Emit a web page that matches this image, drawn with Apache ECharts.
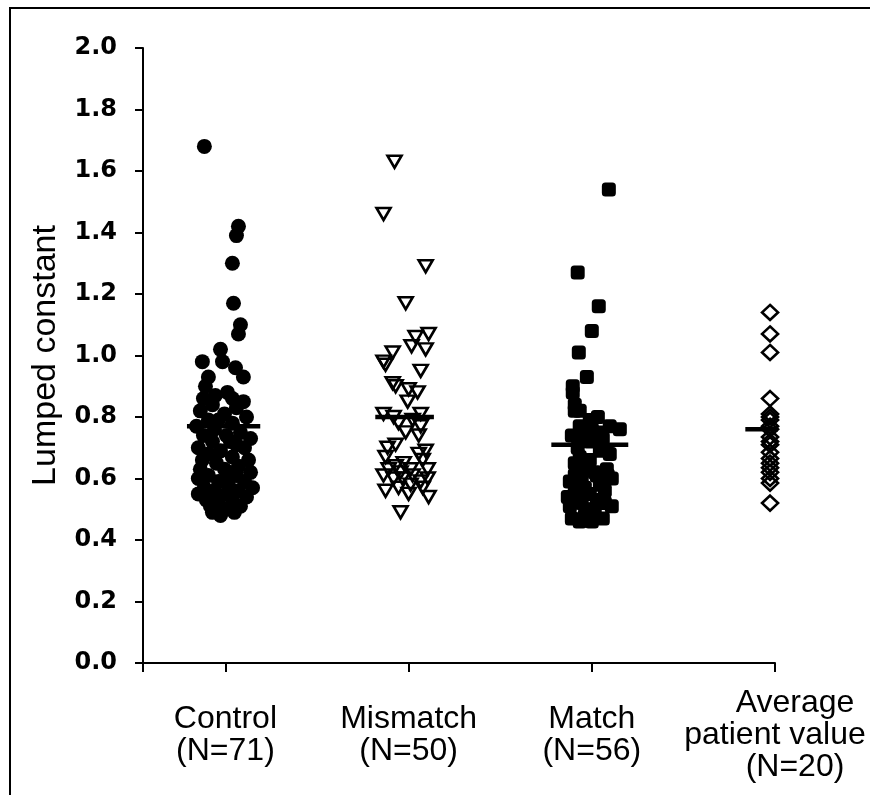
<!DOCTYPE html>
<html>
<head>
<meta charset="utf-8">
<script src="https://cdn.jsdelivr.net/npm/echarts@6/dist/echarts.min.js"></script>
<style>
  html, body { margin: 0; padding: 0; background: #fff; }
  #chart { width: 870px; height: 795px; }
</style>
</head>
<body>
<div id="chart"></div>
<script>
// ---------- DATA ----------
const categories = ['Control\n(N=71)', 'Mismatch\n(N=50)', 'Match\n(N=56)', 'Average\npatient value\n(N=20)'];
const yAxisTitle = 'Lumped constant';

const controlValues = [1.68, 1.42, 1.39, 1.30, 1.17, 1.10, 1.07, 1.02, 0.98, 0.98, 0.96, 0.93, 0.93, 0.90, 0.88, 0.85, 0.86, 0.87, 0.86,
  0.84, 0.83, 0.82, 0.81, 0.80, 0.79, 0.79, 0.78, 0.77, 0.76, 0.75, 0.74, 0.74, 0.73, 0.72, 0.71, 0.70, 0.70, 0.69, 0.68,
  0.67, 0.66, 0.66, 0.65, 0.64, 0.63, 0.63, 0.62, 0.61, 0.61, 0.60, 0.59, 0.59, 0.58, 0.57, 0.57, 0.56, 0.56, 0.55, 0.54,
  0.53, 0.53, 0.52, 0.51, 0.51, 0.50, 0.49, 0.49, 0.48, 0.55, 0.62, 0.72];
const controlJitter = [-0.115, 0.071, 0.060, 0.038, 0.044, 0.082, 0.071, -0.027, -0.126, -0.016, 0.055, 0.098, -0.093, -0.109, 0.011, 0.098, -0.120, -0.055, 0.038,
  -0.071, 0.060, -0.137, -0.005, 0.115, -0.093, -0.038, 0.038, -0.158, -0.060, 0.082, -0.120, 0.005, 0.137, -0.071, 0.060, -0.148, 0.104, -0.027, -0.093,
  0.038, -0.126, 0.126, -0.049, 0.071, -0.137, -0.005, 0.137, -0.093, 0.060, -0.148, -0.038, 0.104, 0.016, -0.115, 0.148, 0.071, -0.060, 0.005, 0.115,
  -0.104, 0.038, -0.038, 0.082, -0.082, 0.005, -0.071, 0.049, -0.027, -0.148, 0.016, 0.027];

const mismatchValues = [1.63, 1.46, 1.29, 1.17, 1.07, 1.06, 1.03, 1.02, 1.01, 0.98, 0.97, 0.95, 0.91, 0.90, 0.89, 0.88, 0.85, 0.81, 0.81, 0.80,
  0.79, 0.77, 0.75, 0.74, 0.70, 0.69, 0.68, 0.67, 0.65, 0.64, 0.63, 0.63, 0.61, 0.60, 0.61, 0.60, 0.60, 0.59, 0.57, 0.57,
  0.55, 0.54, 0.49, 0.62, 0.58, 0.66, 0.71, 0.78, 0.56, 0.63];
const mismatchJitter = [-0.077, -0.137, 0.093, -0.016, 0.109, 0.038, 0.016, 0.093, -0.087, -0.137, -0.126, 0.066, -0.087, -0.071, 0.000, 0.049, -0.005, 0.066, -0.137, -0.082,
  0.022, 0.066, -0.016, 0.055, -0.115, 0.093, 0.055, -0.126, -0.027, -0.071, -0.109, 0.011, -0.137, -0.082, 0.022, 0.104, -0.033, 0.066, -0.055, 0.077,
  0.000, 0.109, -0.044, -0.044, 0.011, 0.077, -0.071, -0.055, -0.126, 0.104];

const matchValues = [1.54, 1.27, 1.16, 1.08, 1.01, 0.93, 0.90, 0.88, 0.84, 0.82, 0.80, 0.77, 0.76, 0.76, 0.74, 0.74, 0.73, 0.68, 0.67, 0.64,
  0.63, 0.61, 0.61, 0.60, 0.59, 0.57, 0.56, 0.54, 0.53, 0.53, 0.51, 0.50, 0.51, 0.52, 0.46, 0.46, 0.47,
  0.82, 0.79, 0.77, 0.75, 0.72, 0.70, 0.69, 0.66, 0.65, 0.62, 0.60, 0.58, 0.57, 0.55, 0.52, 0.50, 0.48, 0.47, 0.61];
const matchJitter = [0.093, -0.077, 0.038, 0.000, -0.071, -0.027, -0.104, -0.104, -0.093, -0.093, 0.033, 0.098, 0.153, 0.000, -0.109, -0.055, 0.060, 0.098, -0.066, -0.027,
  0.082, -0.093, 0.027, 0.109, -0.120, -0.038, 0.071, -0.131, -0.077, 0.027, -0.120, -0.027, 0.109, 0.071, -0.066, 0.000, 0.060,
  -0.066, -0.011, -0.066, 0.044, -0.011, -0.077, 0.044, -0.011, -0.093, 0.016, -0.055, 0.044, -0.093, -0.011, -0.055, 0.016, -0.038, -0.109, 0.087];

const averageValues = [1.14, 1.07, 1.01, 0.86, 0.81, 0.80, 0.79, 0.77, 0.76, 0.735, 0.72, 0.71, 0.685, 0.665, 0.65, 0.635, 0.62, 0.60, 0.585, 0.52];
const averageJitter = [-0.027, -0.027, -0.027, -0.027, -0.027, -0.027, -0.027, -0.027, -0.027, -0.027, -0.027, -0.027, -0.027, -0.027, -0.027, -0.027, -0.027, -0.027, -0.027, -0.027];

const groupMeans = [0.77, 0.80, 0.71, 0.76];

// ---------- STYLE ----------
const meanLineHalfWidth = [0.20, 0.16, 0.21, 0.14];
const meanLineShift = [-0.01, -0.022, -0.011, -0.022];
const labelFont = '"Liberation Sans", Arial, Helvetica, sans-serif';

function pts(values, jitter, idx) {
  return values.map((v, i) => [idx + jitter[i], v]);
}

const series = [
  {
    type: 'scatter', name: 'Control', data: pts(controlValues, controlJitter, 0),
    symbol: 'circle', symbolSize: 15,
    itemStyle: { color: '#000', opacity: 1 }, z: 2
  },
  {
    type: 'scatter', name: 'Mismatch', data: pts(mismatchValues, mismatchJitter, 1),
    symbol: 'triangle', symbolSize: [14, 12], symbolRotate: 180,
    itemStyle: { color: 'rgba(255,255,255,0)', borderColor: '#000', borderWidth: 2.6, opacity: 1 }, z: 2
  },
  {
    type: 'scatter', name: 'Match', data: pts(matchValues, matchJitter, 2),
    symbol: 'roundRect', symbolSize: 14,
    itemStyle: { color: '#000', opacity: 1 }, z: 2
  },
  {
    type: 'scatter', name: 'Average', data: pts(averageValues, averageJitter, 3),
    symbol: 'diamond', symbolSize: [16, 15],
    itemStyle: { color: 'rgba(255,255,255,0)', borderColor: '#000', borderWidth: 2.6, opacity: 1 }, z: 2
  }
];

groupMeans.forEach((m, i) => {
  const c = i + meanLineShift[i];
  series.push({
    type: 'line',
    data: [[c - meanLineHalfWidth[i], m], [c + meanLineHalfWidth[i], m]],
    symbol: 'none',
    lineStyle: { color: '#000', width: 4.5 },
    z: 5, silent: true
  });
});

// Last category: lines 1 and 3 sit a little right of the tick, line 2 is centred.
function catLabel(v) {
  const i = Math.round(v);
  const lines = categories[i].split('\n');
  return lines.map((l, k) => {
    const key = (i === 3 && k !== 1) ? 'shift' : 'plain';
    return '{' + key + '|' + l + '}';
  }).join('\n');
}

const chart = echarts.init(document.getElementById('chart'), null, { renderer: 'canvas' });
chart.setOption({
  animation: false,
  backgroundColor: '#fff',
  grid: { left: 143, top: 48, right: 95, bottom: 132, containLabel: false, outerBoundsMode: 'none' },
  xAxis: {
    type: 'value', min: -0.45, max: 3,
    splitLine: { show: false },
    axisLine: { show: true, onZero: false, lineStyle: { color: '#000', width: 2 } },
    axisTick: { show: true, customValues: [-0.45, 0, 1, 2, 3], length: 9, lineStyle: { color: '#000', width: 2 } },
    axisLabel: {
      show: true, customValues: [0, 1, 2, 3],
      formatter: catLabel,
      color: '#000', fontFamily: labelFont, fontSize: 32, lineHeight: 32,
      verticalAlign: 'middle', align: 'center', margin: 72,
      rich: {
        plain: { color: '#000', fontFamily: labelFont, fontSize: 32, lineHeight: 32 },
        shift: { color: '#000', fontFamily: labelFont, fontSize: 32, lineHeight: 32, padding: [0, 0, 0, 40] }
      }
    }
  },
  yAxis: {
    type: 'value', min: 0, max: 2, interval: 0.2,
    name: yAxisTitle, nameLocation: 'middle', nameGap: 80, nameRotate: 90,
    nameTextStyle: { color: '#000', fontFamily: labelFont, fontSize: 34 },
    splitLine: { show: false },
    axisLine: { show: true, onZero: false, lineStyle: { color: '#000', width: 2 } },
    axisTick: { show: true, length: 8, lineStyle: { color: '#000', width: 2 } },
    axisLabel: {
      formatter: v => v.toFixed(1),
      color: '#000', fontFamily: '"DejaVu Sans", sans-serif', fontWeight: 'bold', fontSize: 24, margin: 26
    }
  },
  graphic: [
    { type: 'rect', shape: { x: 10, y: 8, width: 900, height: 820 }, style: { fill: 'none', stroke: '#000', lineWidth: 2 }, silent: true }
  ],
  series: series
});
</script>
</body>
</html>
